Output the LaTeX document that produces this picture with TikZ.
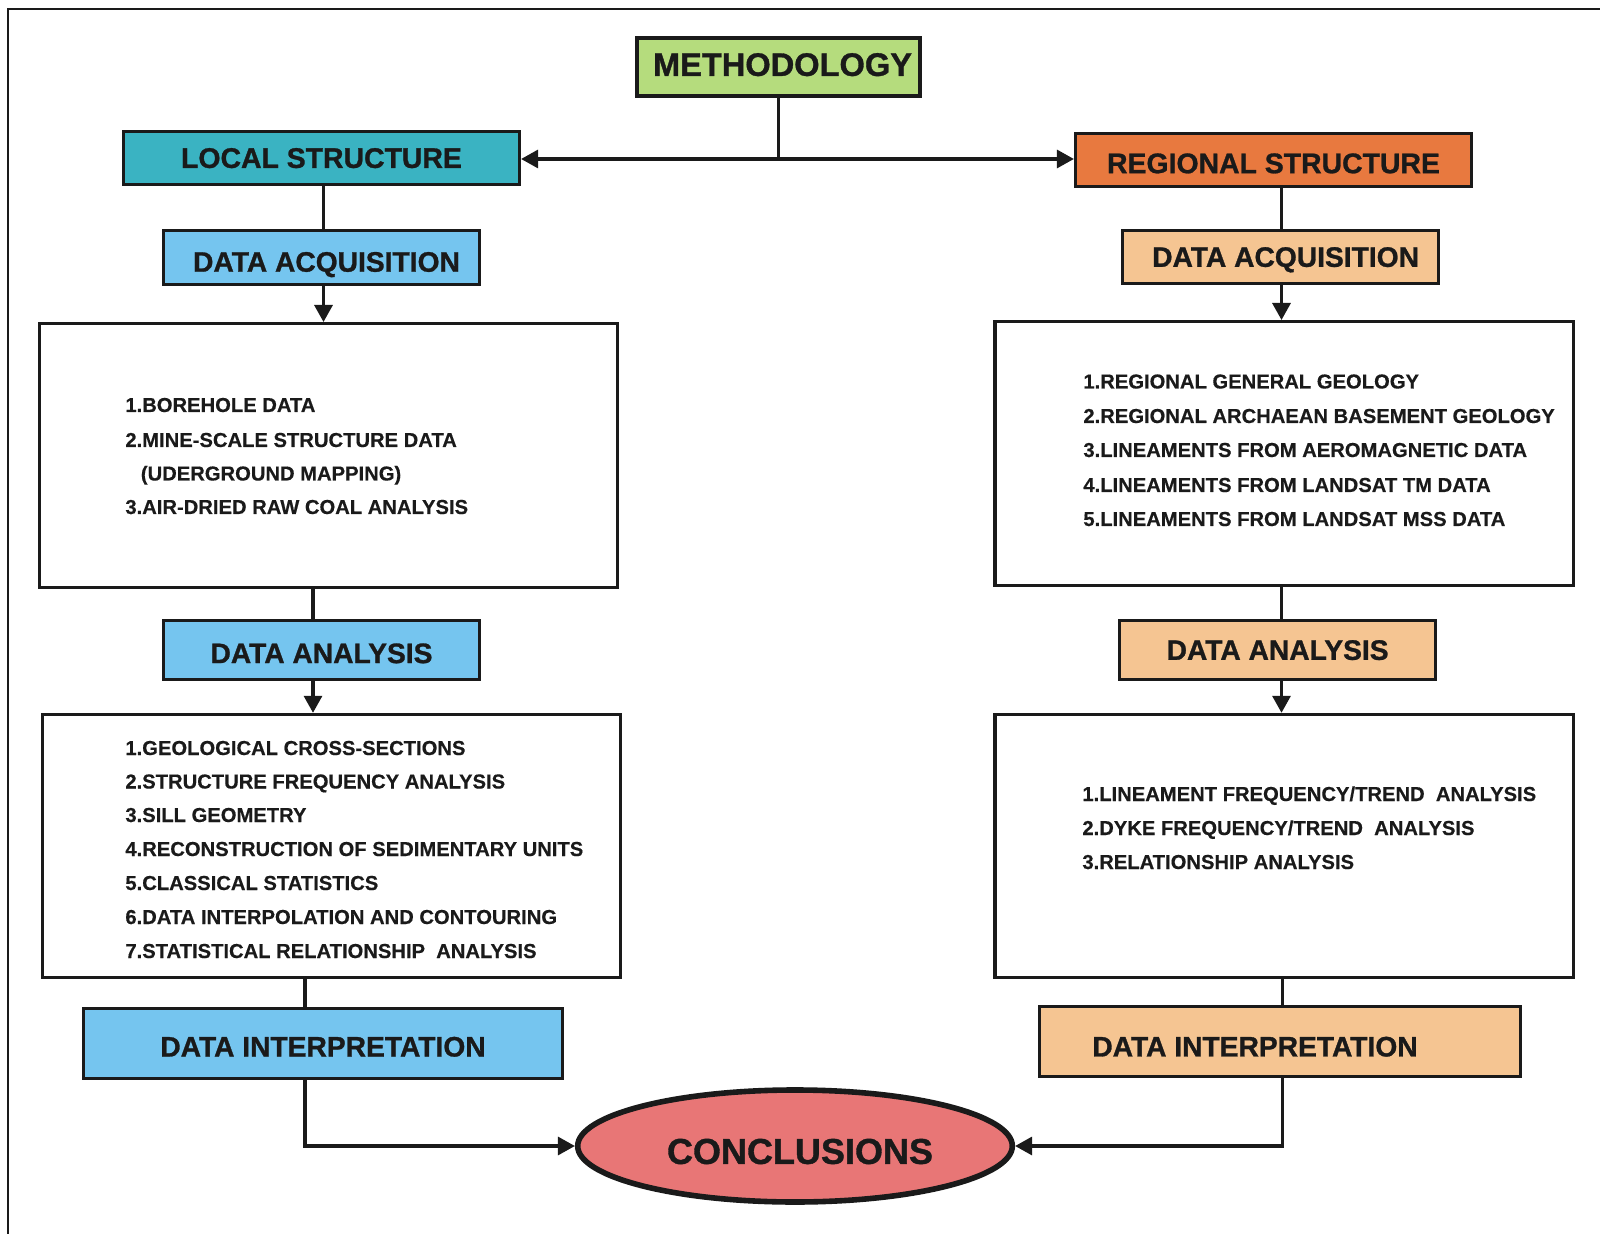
\documentclass[tikz,border=0pt]{standalone}
\usepackage{fontspec}
\setmainfont{Liberation Sans}[BoldFeatures={FakeBold=0.4}]
\newfontfamily\headfont{Liberation Sans}[BoldFeatures={FakeBold=1.0}]
\usetikzlibrary{arrows.meta,shapes.geometric}
\definecolor{cgreen}{HTML}{B5DC7D}
\definecolor{cteal}{HTML}{3AB3C2}
\definecolor{cblue}{HTML}{75C5EF}
\definecolor{corange}{HTML}{E8793F}
\definecolor{cpeach}{HTML}{F5C592}
\definecolor{cred}{HTML}{E87676}
\definecolor{ink}{HTML}{1A1A1A}
\begin{document}
\begin{tikzpicture}[x=0.5pt,y=-0.5pt,
  hbox/.style={draw=ink, line width=1.6pt, inner sep=0pt, text depth=0pt, text=ink,
    font=\headfont\bfseries\fontsize{14.1}{16}\selectfont},
  listbox/.style={draw=ink, line width=1.6pt, inner sep=0pt, fill=white},
  item/.style={anchor=base west, inner sep=0pt, text=ink, font=\bfseries\fontsize{10.1}{12}\selectfont},
  conn/.style={line width=1.6pt, draw=ink},
  arr/.style={conn, -{Triangle[length=8.5pt,width=9pt]}}]
\useasboundingbox (0,0) rectangle (1600,1234);
\fill[white] (0,0) rectangle (1600,1234);
\draw[line width=1pt, ink] (8,1234) -- (8,9) -- (1600,9);

% top
\node[hbox, fill=cgreen, minimum width=141.5pt, minimum height=29pt, text height=8.9pt,
  font=\headfont\bfseries\fontsize{16.3}{18}\selectfont] (meth) at (778.5,67) {\hspace*{4pt}METHODOLOGY};
\node[hbox, fill=cteal, minimum width=198pt, minimum height=26.5pt,
  font=\headfont\bfseries\fontsize{14.2}{16}\selectfont] (local) at (321.5,158) {LOCAL STRUCTURE};
\node[hbox, fill=corange, minimum width=198pt, minimum height=26.5pt, text height=13.2pt,
  font=\headfont\bfseries\fontsize{14.2}{16}\selectfont] (regional) at (1273.5,160) {REGIONAL STRUCTURE};

% left column
\node[hbox, fill=cblue, minimum width=158pt, minimum height=27pt, text height=14.1pt] (lda) at (321.5,257.6) {\hspace*{5pt}DATA ACQUISITION};
\node[listbox, minimum width=288.75pt, minimum height=132pt] (lbox1) at (328.5,455.6) {};
\node[hbox, fill=cblue, minimum width=158pt, minimum height=29.5pt, text height=13.1pt] (ldan) at (321.5,650) {DATA ANALYSIS};
\node[listbox, minimum width=288.75pt, minimum height=131.6pt] (lbox2) at (331.6,846) {};
\node[hbox, fill=cblue, minimum width=239.25pt, minimum height=35.2pt, text height=13.1pt] (ldi) at (323,1043.4) {DATA INTERPRETATION};

% right column
\node[hbox, fill=cpeach, minimum width=158pt, minimum height=26.5pt] (rda) at (1280.6,257) {\hspace*{5pt}DATA ACQUISITION};
\node[listbox, minimum width=289.3pt, minimum height=132pt] (rbox1) at (1284.2,453.6) {};
\node[hbox, fill=cpeach, minimum width=158pt, minimum height=29.5pt] (rdan) at (1277.6,650) {DATA ANALYSIS};
\node[listbox, minimum width=289.3pt, minimum height=131.6pt] (rbox2) at (1284.2,846) {};
\node[hbox, fill=cpeach, minimum width=240.4pt, minimum height=35.2pt, text height=15.1pt] (rdi) at (1280,1041.3) {DATA INTERPRETATION\hspace*{25pt}};

% conclusions
\node[ellipse, draw=ink, line width=2.8pt, fill=cred, inner sep=0pt, text=ink,
  minimum width=217.3pt, minimum height=56pt, text height=17.9pt, text depth=0pt,
  font=\headfont\bfseries\fontsize{18}{20}\selectfont] (concl) at (795,1146) {\hspace*{5pt}CONCLUSIONS};

% list texts
\node[item] (l1a) at (125,412) {1.BOREHOLE DATA};
\node[item] (l1b) at (125,447) {2.MINE-SCALE STRUCTURE DATA};
\node[item] (l1c) at (140.5,480.5) {(UDERGROUND MAPPING)};
\node[item] (l1d) at (125,514) {3.AIR-DRIED RAW COAL ANALYSIS};

\node[item] (l2a) at (125,755) {1.GEOLOGICAL CROSS-SECTIONS};
\node[item] (l2b) at (125,788.5) {2.STRUCTURE FREQUENCY ANALYSIS};
\node[item] (l2c) at (125,822) {3.SILL GEOMETRY};
\node[item] (l2d) at (125,856) {4.RECONSTRUCTION OF SEDIMENTARY UNITS};
\node[item] (l2e) at (125,890) {5.CLASSICAL STATISTICS};
\node[item] (l2f) at (125,924) {6.DATA INTERPOLATION AND CONTOURING};
\node[item] (l2g) at (125,958) {7.STATISTICAL RELATIONSHIP\ \ ANALYSIS};

\node[item] (r1a) at (1083,388.5) {1.REGIONAL GENERAL GEOLOGY};
\node[item] (r1b) at (1083,423) {2.REGIONAL ARCHAEAN BASEMENT GEOLOGY};
\node[item] (r1c) at (1083,457) {3.LINEAMENTS FROM AEROMAGNETIC DATA};
\node[item] (r1d) at (1083,492) {4.LINEAMENTS FROM LANDSAT TM DATA};
\node[item] (r1e) at (1083,526) {5.LINEAMENTS FROM LANDSAT MSS DATA};

\node[item] (r2a) at (1082,801) {1.LINEAMENT FREQUENCY/TREND\ \ ANALYSIS};
\node[item] (r2b) at (1082,835) {2.DYKE FREQUENCY/TREND\ \ ANALYSIS};
\node[item] (r2c) at (1082,869) {3.RELATIONSHIP ANALYSIS};

% connectors
\coordinate (j) at (778.5,159);
\coordinate (lx1) at (323.5,0);
\coordinate (lx2) at (313,0);
\coordinate (lx3) at (305,0);
\coordinate (rx1) at (1281.5,0);
\coordinate (rx2) at (1282.5,0);

\draw[conn] (meth.south) -- (j);
\draw[arr] (j) -- (j -| local.east);
\draw[arr] (j) -- (j -| regional.west);

\draw[conn] (lx1 |- local.south) -- (lx1 |- lda.north);
\draw[arr] (lx1 |- lda.south) -- (lx1 |- lbox1.north);
\draw[conn] (lx2 |- lbox1.south) -- (lx2 |- ldan.north);
\draw[arr] (lx2 |- ldan.south) -- (lx2 |- lbox2.north);
\draw[conn] (lx3 |- lbox2.south) -- (lx3 |- ldi.north);
\draw[arr] (lx3 |- ldi.south) |- (concl.west);

\draw[conn] (rx1 |- regional.south) -- (rx1 |- rda.north);
\draw[arr] (rx1 |- rda.south) -- (rx1 |- rbox1.north);
\draw[conn] (rx1 |- rbox1.south) -- (rx1 |- rdan.north);
\draw[arr] (rx1 |- rdan.south) -- (rx1 |- rbox2.north);
\draw[conn] (rx2 |- rbox2.south) -- (rx2 |- rdi.north);
\draw[arr] (rx2 |- rdi.south) |- (concl.east);
\end{tikzpicture}
\end{document}
